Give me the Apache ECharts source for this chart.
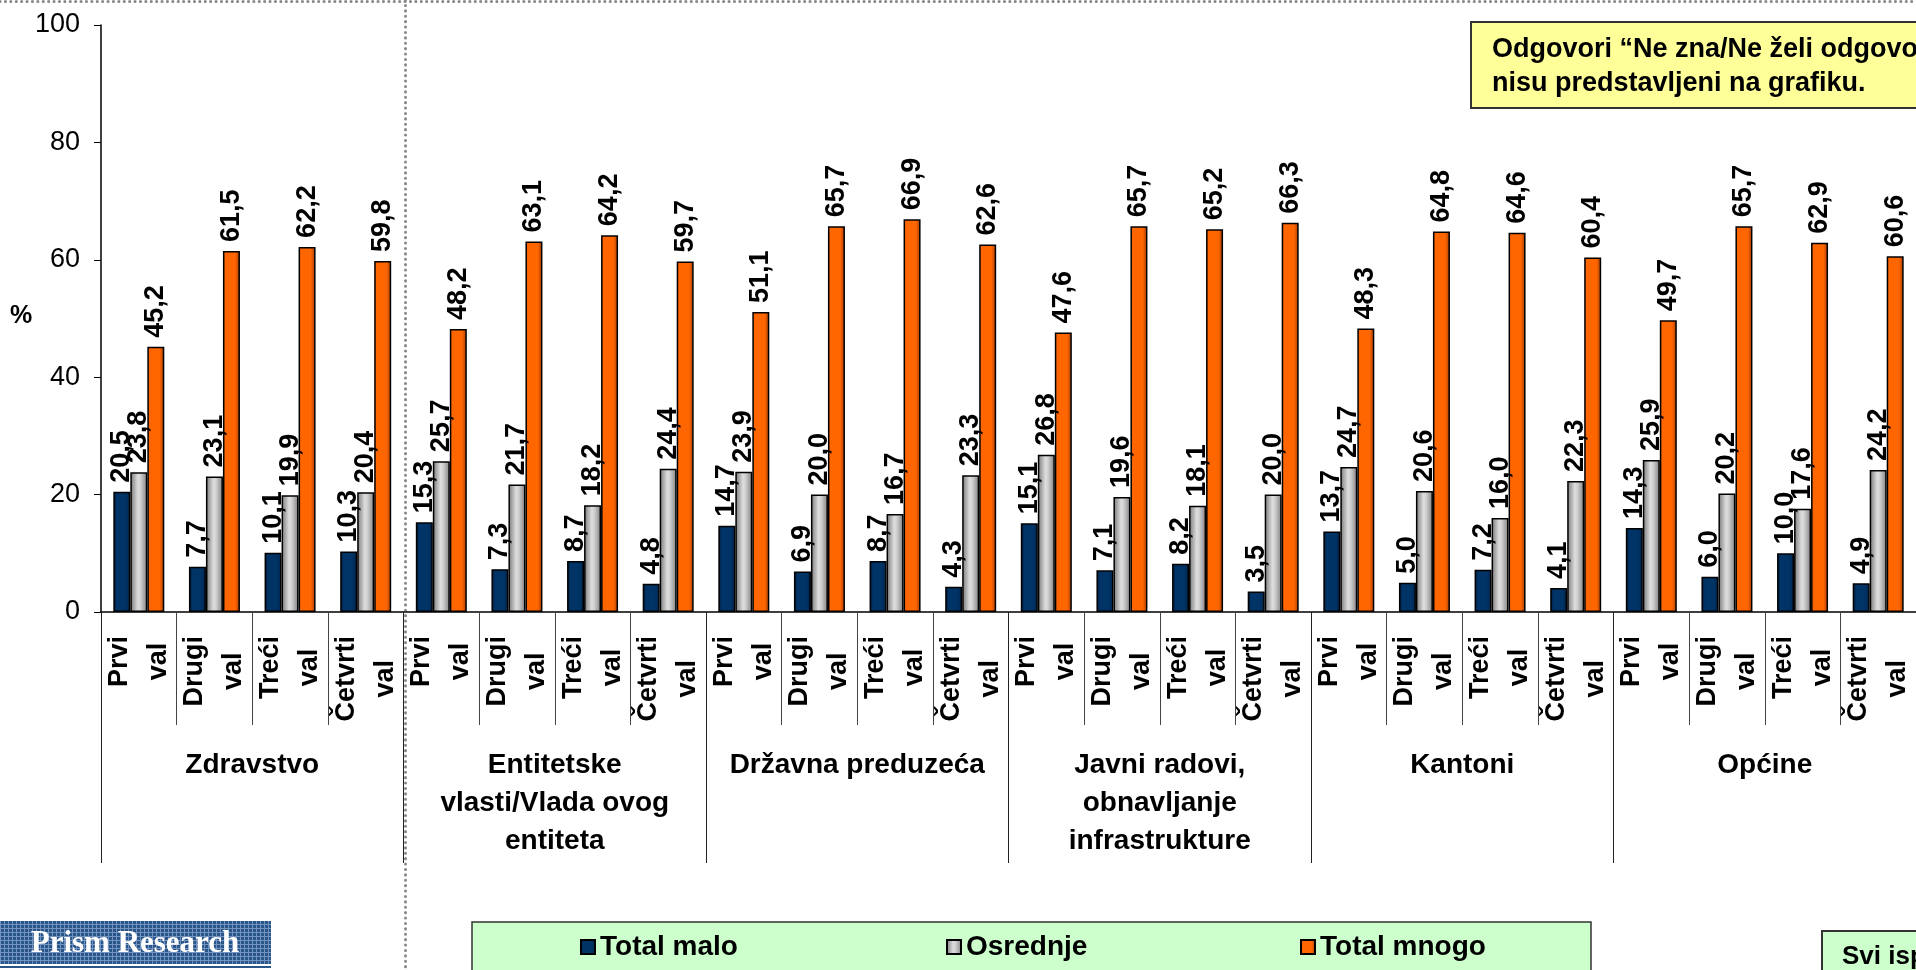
<!DOCTYPE html>
<html><head><meta charset="utf-8">
<script src="https://cdn.jsdelivr.net/npm/echarts@6/dist/echarts.min.js"></script>
<style>html,body{margin:0;padding:0;background:#fff}#c{width:1916px;height:970px}</style>
</head><body><div id="c"></div>
<script>
const groups = ['Zdravstvo', 'Entitetske\nvlasti/Vlada ovog\nentiteta', 'Državna preduzeća', 'Javni radovi,\nobnavljanje\ninfrastrukture', 'Kantoni', 'Općine'];
const waves = ['Prvi val', 'Drugi val', 'Treći val', 'Četvrti val'];
const seriesNames = ['Total malo', 'Osrednje', 'Total mnogo'];
const totalMalo = [20.5, 7.7, 10.1, 10.3, 15.3, 7.3, 8.7, 4.8, 14.7, 6.9, 8.7, 4.3, 15.1, 7.1, 8.2, 3.5, 13.7, 5.0, 7.2, 4.1, 14.3, 6.0, 10.0, 4.9];
const osrednje = [23.8, 23.1, 19.9, 20.4, 25.7, 21.7, 18.2, 24.4, 23.9, 20.0, 16.7, 23.3, 26.8, 19.6, 18.1, 20.0, 24.7, 20.6, 16.0, 22.3, 25.9, 20.2, 17.6, 24.2];
const totalMnogo = [45.2, 61.5, 62.2, 59.8, 48.2, 63.1, 64.2, 59.7, 51.1, 65.7, 66.9, 62.6, 47.6, 65.7, 65.2, 66.3, 48.3, 64.8, 64.6, 60.4, 49.7, 65.7, 62.9, 60.6];
const yMin = 0, yMax = 100, yStep = 20;
const noteText = 'Odgovori “Ne zna/Ne želi odgovoriti”\nnisu predstavljeni na grafiku.';
const baseText = 'Svi ispitanici';
const logoText = 'Prism Research';

const FF = '"Liberation Sans", Arial, sans-serif';
const categories = [];
groups.forEach((g, gi) => waves.forEach(w => categories.push(gi + '|' + w)));

function grad(stops) {
  return new echarts.graphic.LinearGradient(0, 0, 1, 0, stops.map(c => ({offset: c[0], color: c[1]})));
}
const colors = [
  grad([[0, '#001833'], [0.2, '#003366'], [0.7, '#003366'], [1, '#00254d']]),
  grad([[0, '#777777'], [0.45, '#dedede'], [0.6, '#d0d0d0'], [1, '#808080']]),
  grad([[0, '#e65c00'], [0.15, '#ff6600'], [0.72, '#ff6600'], [1, '#a33d00']])
];
const dataSets = [totalMalo, osrednje, totalMnogo];

const pc = document.createElement('canvas');
pc.width = 4; pc.height = 4;
const pctx = pc.getContext('2d');
pctx.fillStyle = '#2a5589'; pctx.fillRect(0, 0, 4, 4);
pctx.fillStyle = '#7393c0'; pctx.fillRect(0, 0, 4, 1); pctx.fillRect(0, 0, 1, 4);

const chart = echarts.init(document.getElementById('c'), null, {renderer: 'canvas'});
const series = dataSets.map((d, i) => ({
  name: seriesNames[i],
  type: 'bar',
  xAxisIndex: 0,
  barWidth: 17,
  barGap: '0%',
  data: d,
  itemStyle: {color: colors[i], borderColor: '#000', borderWidth: 1.5},
  label: {
    show: true, position: 'top', rotate: 90, align: 'left', verticalAlign: 'middle', distance: 9,
    fontFamily: FF, fontSize: 27, fontWeight: 'bold', color: '#000',
    formatter: p => p.value.toFixed(1).replace('.', ',')
  }
}));

const legends = seriesNames.map((n, i) => ({
  data: [n], left: [580, 946, 1300][i], top: 933, padding: 0,
  itemWidth: 14, itemHeight: 14, icon: 'rect', selectedMode: false,
  textStyle: {fontFamily: FF, fontSize: 28, fontWeight: 'bold', color: '#000'}
}));

chart.setOption({
  animation: false,
  backgroundColor: '#fff',
  grid: {left: 101, top: 25, width: 1827, height: 587, containLabel: false},
  legend: legends,
  xAxis: [{
    type: 'category', position: 'bottom', data: categories,
    axisLine: {lineStyle: {color: '#000', width: 1.5}},
    axisTick: {show: true, interval: 0, length: 113, lineStyle: {color: '#444', width: 1}},
    axisLabel: {
      interval: 0, rotate: 90, margin: 24,
      formatter: v => v.split('|')[1].split(' ').map(s => '{a|' + s + '}').join('\n'),
      rich: {a: {align: 'center', fontFamily: FF, fontSize: 27, fontWeight: 'bold', color: '#000', lineHeight: 39}}
    }
  }, {
    type: 'category', position: 'bottom', data: groups,
    axisLine: {show: false},
    axisTick: {show: true, interval: 0, length: 251, lineStyle: {color: '#222', width: 1}},
    axisLabel: {interval: 0, margin: 134, fontFamily: FF, fontSize: 28, fontWeight: 'bold', color: '#000', lineHeight: 38}
  }],
  yAxis: {
    type: 'value', min: yMin, max: yMax, interval: yStep,
    splitLine: {show: false},
    axisLine: {show: true, lineStyle: {color: '#000', width: 1.5}},
    axisTick: {show: true, length: 7, lineStyle: {color: '#000'}},
    axisLabel: {margin: 21, fontFamily: FF, fontSize: 27, color: '#000'}
  },
  series: series,
  graphic: [
    {type: 'line', z: -10, shape: {x1: 0, y1: 1.5, x2: 1916, y2: 1.5}, style: {stroke: '#888', lineWidth: 3, lineDash: [0.1, 5.3], lineCap: 'round'}},
    {type: 'line', z: -10, shape: {x1: 405.5, y1: 0, x2: 405.5, y2: 970}, style: {stroke: '#888', lineWidth: 3, lineDash: [0.1, 5.3], lineCap: 'round'}},
    {type: 'text', left: 10, top: 304, style: {text: '%', font: 'bold 25px ' + FF, fill: '#000'}},
    {type: 'rect', shape: {x: 1471, y: 22, width: 480, height: 86}, style: {fill: '#FFFF99', stroke: '#333', lineWidth: 2}},
    {type: 'text', x: 1492, y: 33, style: {text: noteText, font: 'bold 27px ' + FF, fill: '#000', lineHeight: 34}},
    {type: 'rect', z: -5, shape: {x: 472, y: 922, width: 1119, height: 60}, style: {fill: '#CCFFCC', stroke: '#333', lineWidth: 1.5}},
    {type: 'rect', shape: {x: 1822, y: 931, width: 200, height: 60}, style: {fill: '#CCFFCC', stroke: '#333', lineWidth: 2}},
    {type: 'text', x: 1842, y: 957, style: {text: baseText, font: 'bold 26px ' + FF, fill: '#000', verticalAlign: 'middle'}},
    {type: 'rect', shape: {x: 0, y: 921, width: 271, height: 43}, style: {fill: {image: pc, repeat: 'repeat'}}},
    {type: 'rect', shape: {x: 0, y: 966, width: 271, height: 2}, style: {fill: '#2a5589'}},
    {type: 'text', x: 135, y: 944, style: {text: logoText, font: 'bold 31px "Liberation Serif", "Times New Roman", serif', fill: '#fff', align: 'center', verticalAlign: 'middle'}}
  ]
});
</script>
</body></html>
